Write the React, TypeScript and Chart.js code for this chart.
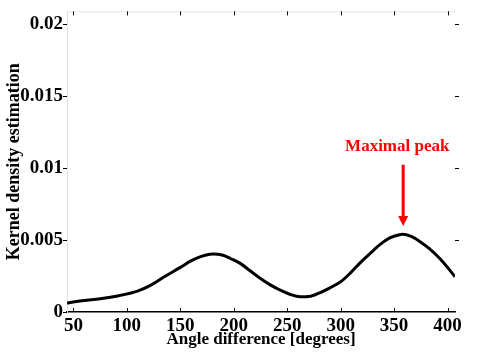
import React, { useEffect, useRef } from "react";
import { Chart, registerables } from "chart.js";

Chart.register(...registerables);

const angles = [44, 50, 60, 75, 90, 110, 122, 135, 150, 160, 169, 180, 190, 197, 206, 215, 225, 235, 244, 253, 262, 272, 281, 290, 300, 309, 318, 328, 337, 346, 355, 358, 366, 374, 383, 393, 400, 407];
const density = [0.00062, 0.0007, 0.0008, 0.00092, 0.0011, 0.00145, 0.00185, 0.00245, 0.0031, 0.00355, 0.00385, 0.00403, 0.00395, 0.00372, 0.00338, 0.00288, 0.00233, 0.00185, 0.0015, 0.00122, 0.00106, 0.0011, 0.00135, 0.00168, 0.0021, 0.0027, 0.0034, 0.0041, 0.0047, 0.00515, 0.00537, 0.0054, 0.00525, 0.0049, 0.0044, 0.0037, 0.0031, 0.00245];
const xTicks = [50, 100, 150, 200, 250, 300, 350, 400];
const yTicks = [0, 0.005, 0.01, 0.015, 0.02];
const yTickLabels = ["0", "0.005", "0.01", "0.015", "0.02"];
const annotationText = "Maximal peak";
const annotationTextAt = { x: 353, y: 0.01148 };
const arrowX = 358.5;
const arrowFromY = 0.01024;
const arrowToY = 0.00598;

const FONT = "'Liberation Serif', 'DejaVu Serif', serif";

const decorPlugin = {
  id: "decor",
  afterDraw(chart: any) {
    const { ctx, chartArea, scales } = chart;
    const xs = scales.x;
    const ys = scales.y;
    ctx.save();
    ctx.strokeStyle = "#e4e4e4";
    ctx.lineWidth = 1;
    ctx.beginPath();
    ctx.moveTo(chartArea.left, chartArea.top + 0.5);
    ctx.lineTo(chartArea.right, chartArea.top + 0.5);
    ctx.stroke();
    ctx.strokeStyle = "#000";
    ctx.beginPath();
    xTicks.forEach((t) => {
      const px = Math.round(xs.getPixelForValue(t)) + 0.5;
      ctx.moveTo(px, chartArea.bottom);
      ctx.lineTo(px, chartArea.bottom - 4);
      ctx.moveTo(px, chartArea.top);
      ctx.lineTo(px, chartArea.top + 4);
    });
    ctx.stroke();
    ctx.beginPath();
    yTicks.forEach((t) => {
      if (t === 0) return;
      const py = Math.round(ys.getPixelForValue(t)) + 0.5;
      ctx.moveTo(chartArea.right, py);
      ctx.lineTo(chartArea.right + 4, py);
    });
    ctx.stroke();
    ctx.fillStyle = "#ff0000";
    ctx.strokeStyle = "#ff0000";
    ctx.font = `bold 17px ${FONT}`;
    ctx.textAlign = "center";
    ctx.textBaseline = "middle";
    ctx.fillText(annotationText, xs.getPixelForValue(annotationTextAt.x), ys.getPixelForValue(annotationTextAt.y));
    const ax = xs.getPixelForValue(arrowX);
    const y1 = ys.getPixelForValue(arrowFromY);
    const y2 = ys.getPixelForValue(arrowToY);
    ctx.lineWidth = 3;
    ctx.beginPath();
    ctx.moveTo(ax, y1);
    ctx.lineTo(ax, y2 - 8);
    ctx.stroke();
    ctx.beginPath();
    ctx.moveTo(ax - 5, y2 - 10);
    ctx.lineTo(ax + 5, y2 - 10);
    ctx.lineTo(ax, y2);
    ctx.closePath();
    ctx.fill();
    ctx.restore();
  },
};

export default function App() {
  const ref = useRef<HTMLCanvasElement | null>(null);
  useEffect(() => {
    document.body.style.margin = "0";
    const canvas = ref.current;
    if (!canvas) return;
    const chart = new Chart(canvas, {
      type: "line",
      data: {
        datasets: [
          {
            data: angles.map((a, i) => ({ x: a, y: density[i] })),
            borderColor: "#000",
            borderWidth: 3,
            pointRadius: 0,
            cubicInterpolationMode: "monotone",
            fill: false,
          },
        ],
      },
      options: {
        animation: false,
        responsive: false,
        layout: { padding: { top: 8, right: 22, left: 0, bottom: 0 } },
        plugins: { legend: { display: false }, tooltip: { enabled: false } },
        scales: {
          x: {
            type: "linear",
            min: 44,
            max: 407,
            afterBuildTicks: (s: any) => {
              s.ticks = xTicks.map((v) => ({ value: v }));
            },
            afterFit: (s: any) => {
              s.height = 42;
            },
            border: { display: true, color: "#000", width: 1.5 },
            grid: { display: false, drawTicks: false, tickLength: 0 },
            ticks: {
              color: "#000",
              padding: 3,
              maxRotation: 0,
              autoSkip: false,
              font: { family: FONT, size: 19, weight: "bold" },
              callback: (v: any) => String(v),
            },
            title: {
              display: true,
              text: "Angle difference [degrees]",
              color: "#000",
              padding: { top: 0, bottom: 4 },
              font: { family: FONT, size: 17, weight: "bold" },
            },
          },
          y: {
            type: "linear",
            min: 0,
            max: 0.0209,
            afterBuildTicks: (s: any) => {
              s.ticks = yTicks.map((v) => ({ value: v }));
            },
            afterFit: (s: any) => {
              s.width = 67;
            },
            border: { display: true, color: "#e0e0e0", width: 1 },
            grid: { display: true, drawOnChartArea: false, drawTicks: true, tickLength: 4, color: "#000" },
            ticks: {
              color: "#000",
              padding: 0,
              autoSkip: false,
              font: { family: FONT, size: 19, weight: "bold" },
              callback: (v: any) => {
                const i = yTicks.indexOf(v);
                return i >= 0 ? yTickLabels[i] : "";
              },
            },
            title: {
              display: true,
              text: "Kernel density estimation",
              color: "#000",
              padding: { top: 4, bottom: 0 },
              font: { family: FONT, size: 18, weight: "bold" },
            },
          },
        },
      },
      plugins: [decorPlugin],
    } as any);
    return () => chart.destroy();
  }, []);
  return (
    <div style={{ width: 477, height: 354, background: "#fff" }}>
      <canvas ref={ref} width={477} height={354} style={{ display: "block" }} />
    </div>
  );
}
